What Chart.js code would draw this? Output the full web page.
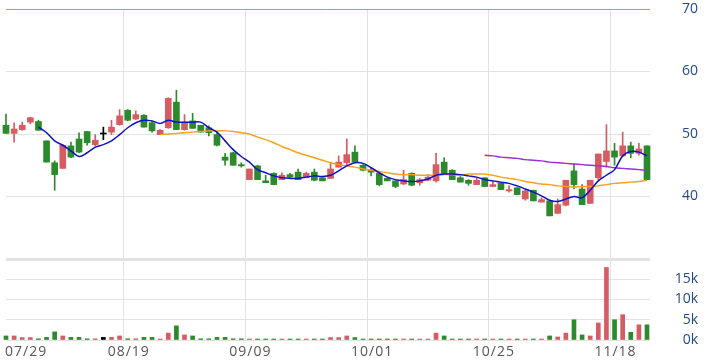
<!DOCTYPE html>
<html>
<head>
<meta charset="utf-8">
<script src="https://cdn.jsdelivr.net/npm/chart.js@4"></script>
<style>
    html, body { margin: 0; padding: 0; background: #ffffff; }
    #chart { display: block; }
</style>
</head>
<body>
<canvas id="chart" width="704" height="363"></canvas>
<script>
// date ticks, one every 15 trading days
const tickLabels = ['07/29', '08/19', '09/09', '10/01', '10/25', '11/18'];
const tickEvery = 15;

// daily candles
const opens = [
    51.4, 50.1, 50.7, 51.9, 52.0, 48.9, 45.4, 44.5, 48.1, 49.2,
    50.4, 48.3, 50.0, 50.3, 51.5, 53.8, 52.4, 53.0, 51.8, 49.9,
    51.0, 55.1, 50.7, 52.1, 51.4, 51.0, 49.9, 46.3, 47.0, 45.1,
    42.7, 44.9, 42.5, 43.7, 42.7, 43.5, 43.9, 43.0, 43.9, 43.0,
    42.9, 44.7, 45.4, 47.1, 45.0, 44.2, 43.7, 42.9, 42.5, 42.0,
    43.7, 42.2, 42.6, 42.5, 45.5, 44.2, 43.0, 42.6, 41.9, 43.0,
    41.6, 42.2, 40.9, 41.4, 39.6, 41.0, 39.1, 39.3, 37.3, 38.6,
    44.1, 41.2, 38.9, 43.0, 45.6, 47.3, 46.5, 48.1, 46.9, 48.1
];
const highs = [
    53.2, 51.8, 51.9, 52.7, 52.2, 48.9, 45.7, 48.3, 48.7, 50.2,
    50.4, 49.9, 51.1, 52.2, 53.9, 53.9, 53.7, 53.1, 52.1, 50.7,
    55.8, 57.0, 53.1, 53.3, 51.4, 51.3, 50.3, 46.9, 47.1, 45.4,
    44.4, 45.0, 43.4, 43.8, 43.8, 43.7, 44.4, 43.9, 44.4, 43.0,
    45.3, 46.5, 49.2, 48.1, 45.1, 44.6, 43.8, 43.0, 42.5, 44.2,
    43.8, 42.9, 43.5, 46.9, 46.2, 44.3, 43.2, 42.7, 43.0, 43.0,
    42.5, 42.2, 41.7, 41.4, 41.0, 41.0, 39.8, 39.4, 39.6, 42.6,
    45.2, 41.9, 42.6, 46.8, 51.5, 48.5, 50.3, 48.7, 48.5, 48.1
];
const lows = [
    50.1, 48.7, 50.6, 51.6, 50.6, 45.5, 41.0, 44.5, 46.2, 47.0,
    48.2, 48.1, 49.1, 49.9, 51.4, 52.1, 52.3, 51.1, 50.3, 49.9,
    50.9, 50.7, 50.6, 50.9, 50.3, 49.7, 48.1, 45.0, 45.0, 44.7,
    42.7, 42.7, 42.2, 41.9, 42.7, 43.0, 42.7, 43.0, 42.5, 42.5,
    42.9, 44.7, 45.1, 45.4, 44.1, 43.3, 41.7, 42.5, 41.4, 41.9,
    41.7, 41.8, 42.5, 42.3, 43.7, 42.7, 42.3, 41.8, 41.9, 41.6,
    41.6, 41.1, 40.7, 40.3, 39.4, 39.3, 39.1, 36.9, 37.3, 38.5,
    41.2, 38.7, 38.9, 42.7, 44.7, 45.0, 46.4, 46.2, 46.6, 42.7
];
const closes = [
    50.1, 50.8, 51.4, 52.6, 50.6, 45.5, 43.5, 48.2, 46.3, 47.1,
    48.6, 49.0, 50.0, 51.1, 52.9, 52.2, 53.1, 51.1, 50.5, 50.6,
    55.7, 50.7, 51.9, 50.9, 50.3, 50.2, 48.2, 45.8, 45.0, 44.9,
    44.4, 42.7, 42.2, 41.9, 43.4, 43.1, 42.7, 43.7, 42.6, 42.5,
    44.4, 45.5, 46.7, 45.5, 44.2, 43.9, 41.9, 42.5, 41.6, 42.7,
    41.8, 42.7, 43.1, 45.1, 43.7, 42.7, 42.3, 42.1, 42.6, 41.6,
    41.9, 41.1, 41.1, 40.3, 40.9, 39.3, 39.5, 36.9, 38.7, 42.6,
    41.9, 38.7, 42.6, 46.8, 47.3, 46.3, 48.1, 46.9, 47.6, 42.7
];

// moving averages as drawn (null before each line starts)
const ma5 = [
    null, null, null, null, 51.1, 50.2, 48.9, 48.2, 47.3, 46.4,
    47.0, 47.9, 48.3, 48.9, 49.9, 51.0, 51.8, 52.2, 52.1, 51.7,
    52.2, 51.9, 51.9, 51.9, 51.9, 51.0, 50.3, 48.9, 47.5, 46.4,
    45.5, 44.3, 43.8, 43.3, 43.0, 42.9, 42.9, 43.1, 43.3, 43.2,
    43.4, 44.1, 44.9, 45.4, 45.3, 44.6, 43.8, 43.1, 42.7, 42.5,
    42.4, 42.5, 42.8, 43.4, 43.6, 43.6, 43.5, 43.3, 43.1, 42.7,
    42.5, 42.3, 42.1, 41.7, 41.2, 40.7, 40.1, 39.4, 39.2, 39.6,
    40.0, 39.8, 41.0, 42.5, 43.4, 44.3, 46.5, 47.2, 47.1, 46.5
];
const ma20 = [
    null, null, null, null, null, null, null, null, null, null,
    null, null, null, null, null, null, null, null, null, 49.9,
    50.0, 50.1, 50.2, 50.3, 50.4, 50.5, 50.5, 50.5, 50.4, 50.2,
    50.0, 49.5, 49.1, 48.6, 48.0, 47.5, 47.0, 46.6, 46.2, 45.8,
    45.4, 45.1, 44.9, 44.7, 44.4, 44.2, 44.0, 43.8, 43.6, 43.5,
    43.5, 43.4, 43.4, 43.4, 43.5, 43.5, 43.4, 43.6, 43.6, 43.6,
    43.4, 43.1, 42.9, 42.7, 42.4, 42.2, 42.0, 41.9, 41.7, 41.6,
    41.5, 41.6, 41.6, 41.7, 41.9, 42.1, 42.2, 42.3, 42.4, 42.6
];
const ma60 = [
    null, null, null, null, null, null, null, null, null, null,
    null, null, null, null, null, null, null, null, null, null,
    null, null, null, null, null, null, null, null, null, null,
    null, null, null, null, null, null, null, null, null, null,
    null, null, null, null, null, null, null, null, null, null,
    null, null, null, null, null, null, null, null, null, 46.6,
    46.5, 46.3, 46.2, 46.1, 45.9, 45.8, 45.7, 45.5, 45.4, 45.3,
    45.2, 45.1, 45.0, 44.9, 44.8, 44.6, 44.5, 44.4, 44.3, 44.2
];

// daily volume
const volumes = [
    1000, 1000, 600, 600, 300, 650, 2000, 1000, 650, 650,
    300, 300, 650, 650, 1000, 300, 300, 650, 650, 200,
    1700, 3500, 1250, 1000, 300, 300, 650, 650, 300, 300,
    200, 200, 200, 200, 200, 200, 200, 150, 100, 100,
    600, 600, 1000, 600, 250, 100, 150, 100, 150, 150,
    150, 100, 150, 1700, 1000, 150, 150, 150, 150, 150,
    150, 150, 150, 150, 100, 100, 100, 1000, 750, 1700,
    5000, 1250, 1000, 4200, 17900, 5000, 6250, 1900, 3750, 3750
];

const RED = '#d65b62';
const GREEN = '#2c8a2c';
const GRID = '#e3e3e3';
const TOP_LINE = '#b39b74';
const AXIS_BLUE = '#234a8c';

const categories = opens.map((_, i) => i % tickEvery === 0 ? tickLabels[i / tickEvery] : '');
const candleColors = opens.map((o, i) => closes[i] > o ? RED : (closes[i] < o ? GREEN : '#000000'));
const bodies = opens.map((o, i) => [o, closes[i]]);
const wicks = lows.map((l, i) => [l, highs[i]]);

const dateLabelsPlugin = {
    id: 'dateLabels',
    afterDraw(chart) {
        const ctx = chart.ctx;
        const xs = chart.scales.x;
        ctx.save();
        ctx.font = '14px "Open Sans"';
        ctx.fillStyle = '#555555';
        ctx.textBaseline = 'middle';
        ctx.letterSpacing = '1px';
        tickLabels.forEach(function (t, k) {
            const px = xs.getPixelForValue(k * tickEvery);
            if (k === 0) {
                ctx.textAlign = 'left';
                ctx.fillText(t, px - 1, 352);
            } else {
                ctx.textAlign = 'center';
                ctx.fillText(t, px + 1, 352);
            }
        });
        ctx.restore();
    }
};

// fixed axis width, and no extra room above/below for the tick labels
function fitRightAxis(s) {
    s.width = 51;
    s.paddingTop = 0;
    s.paddingBottom = 0;
}

function lineSet(data, color) {
    return {
        type: 'line',
        data: data,
        yAxisID: 'y',
        borderColor: color,
        borderWidth: 1.5,
        pointRadius: 0,
        tension: 0.35,
        fill: false,
        clip: false,
        order: 0
    };
}

new Chart(document.getElementById('chart'), {
    type: 'bar',
    data: {
        labels: categories,
        datasets: [
            lineSet(ma5, '#1010c8'),
            lineSet(ma20, '#f5a31a'),
            lineSet(ma60, '#9b30d0'),
            {
                data: bodies,
                yAxisID: 'y',
                backgroundColor: candleColors,
                barThickness: 6,
                minBarLength: 1,
                grouped: false,
                clip: false,
                order: 1
            },
            {
                data: wicks,
                yAxisID: 'y',
                backgroundColor: candleColors,
                barThickness: 1,
                grouped: false,
                clip: false,
                order: 2
            },
            {
                data: volumes,
                yAxisID: 'yv',
                backgroundColor: candleColors,
                barThickness: 4,
                minBarLength: 1,
                grouped: false,
                clip: false,
                order: 3
            }
        ]
    },
    options: {
        responsive: false,
        animation: false,
        devicePixelRatio: 1,
        layout: { padding: { top: 9, bottom: 23, left: 6, right: 6 } },
        plugins: {
            legend: { display: false },
            tooltip: { enabled: false }
        },
        scales: {
            x: {
                offset: false,
                border: { display: false },
                ticks: { display: false, autoSkip: false },
                grid: {
                    drawTicks: false,
                    color: c => c.index % tickEvery === 0 ? GRID : 'rgba(0,0,0,0)'
                }
            },
            y: {
                position: 'right',
                stack: 'panes',
                stackWeight: 250,
                min: 30,
                max: 70,
                border: { display: false },
                afterFit: fitRightAxis,
                ticks: {
                    stepSize: 10,
                    autoSkip: false,
                    crossAlign: 'far',
                    padding: 32,
                    color: AXIS_BLUE,
                    font: { family: 'Open Sans', size: 14 },
                    callback: v => v === 30 ? '' : v
                },
                grid: {
                    tickLength: 3,
                    color: c => c.tick && c.tick.value === 70 ? TOP_LINE : GRID,
                    lineWidth: c => c.tick && c.tick.value === 30 ? 3 : 1
                }
            },
            yv: {
                position: 'right',
                stack: 'panes',
                stackWeight: 81,
                min: 0,
                max: 20000,
                border: { display: false },
                afterFit: fitRightAxis,
                ticks: {
                    stepSize: 5000,
                    autoSkip: false,
                    crossAlign: 'far',
                    padding: 25,
                    color: AXIS_BLUE,
                    font: { family: 'Open Sans', size: 14 },
                    callback: v => v === 20000 ? '' : (v / 1000) + 'k'
                },
                grid: {
                    tickLength: 3,
                    color: GRID,
                    lineWidth: c => c.tick && c.tick.value === 20000 ? 0 : 1
                }
            }
        }
    },
    plugins: [dateLabelsPlugin]
});
</script>
</body>
</html>
